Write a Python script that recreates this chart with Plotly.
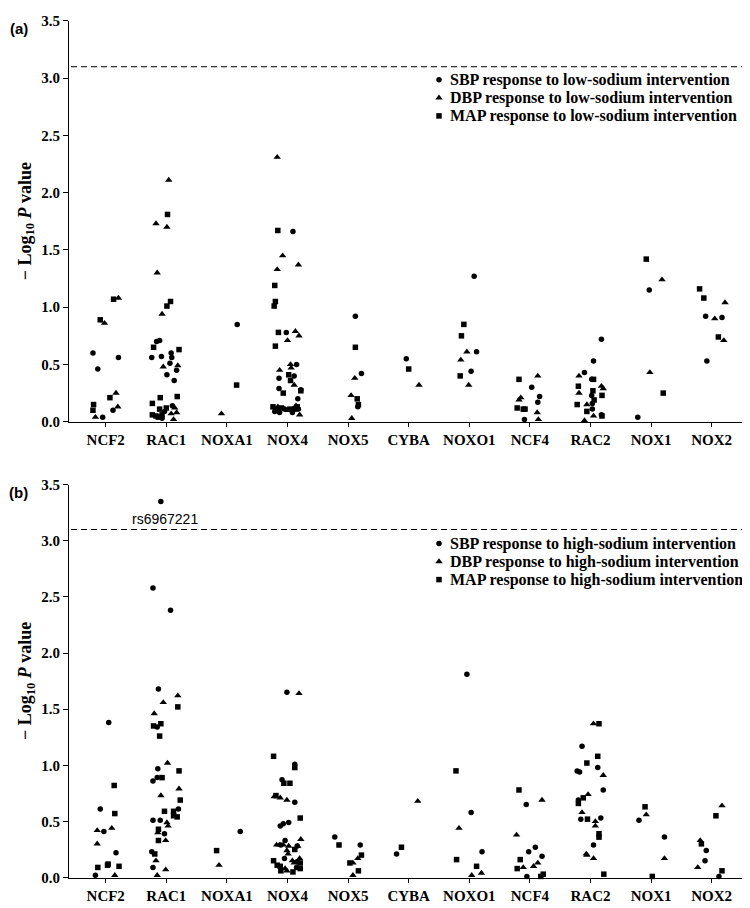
import plotly.graph_objects as go

GENES = ["NCF2", "RAC1", "NOXA1", "NOX4", "NOX5", "CYBA", "NOXO1", "NCF4", "RAC2", "NOX1", "NOX2"]
Y_TICKS = [0.0, 0.5, 1.0, 1.5, 2.0, 2.5, 3.0, 3.5]
THRESHOLD = 3.1
TOP_SNP = "rs6967221"
TOP_SNP_GENE = "RAC1"

# (jitter within gene column, -log10 P) for each SNP
A_SBP = {
    "NCF2": [(-0.21, 0.60), (-0.13, 0.46), (0.21, 0.56), (-0.05, 0.04), (0.12, 0.10)],
    "RAC1": [(-0.16, 0.70), (-0.11, 0.71), (-0.24, 0.56), (-0.08, 0.57), (0.08, 0.60), (0.09, 0.56),
             (0.06, 0.51), (0.17, 0.45), (0.01, 0.41), (0.13, 0.36), (0.10, 0.14), (-0.03, 0.09), (-0.07, 0.03)],
    "NOXA1": [(0.17, 0.85)],
    "NOX4": [(0.09, 1.66), (-0.02, 0.78), (0.15, 0.50), (-0.14, 0.38), (0.11, 0.40), (-0.14, 0.29),
             (0.22, 0.28), (0.17, 0.20), (-0.13, 0.08), (-0.05, 0.11), (0.08, 0.08), (0.18, 0.11), (-0.21, 0.09)],
    "NOX5": [(0.12, 0.92), (0.22, 0.42), (0.16, 0.13)],
    "CYBA": [(-0.04, 0.55)],
    "NOXO1": [(0.08, 1.27), (0.12, 0.61), (0.03, 0.44)],
    "NCF4": [(0.03, 0.30), (0.16, 0.22), (0.13, 0.17), (-0.09, 0.02)],
    "RAC2": [(0.18, 0.72), (0.05, 0.53), (-0.10, 0.43), (0.02, 0.37), (0.02, 0.23), (0.03, 0.16),
             (0.03, 0.11), (0.18, 0.06)],
    "NOX1": [(-0.03, 1.15), (-0.22, 0.04)],
    "NOX2": [(-0.10, 0.92), (0.17, 0.91), (-0.08, 0.53)],
}
A_DBP = {
    "NCF2": [(-0.02, 0.86), (0.21, 1.08), (-0.17, 0.04), (0.17, 0.25), (0.20, 0.13)],
    "RAC1": [(0.04, 2.11), (-0.17, 1.73), (0.01, 1.70), (-0.15, 1.30), (-0.07, 0.94), (-0.05, 0.48),
             (0.19, 0.49), (0.14, 0.12), (0.08, 0.07), (0.17, 0.08), (0.12, 0.02)],
    "NOXA1": [(-0.09, 0.07)],
    "NOX4": [(-0.17, 2.31), (-0.08, 1.45), (-0.17, 1.33), (0.18, 1.37), (0.13, 0.79), (0.00, 0.71),
             (0.19, 0.75), (-0.13, 0.45), (0.05, 0.50), (0.06, 0.47), (0.11, 0.32), (-0.16, 0.13),
             (0.00, 0.10), (0.14, 0.14), (0.20, 0.06)],
    "NOX5": [(0.11, 0.38), (0.05, 0.23), (0.06, 0.03)],
    "CYBA": [(0.17, 0.32)],
    "NOXO1": [(-0.04, 0.61), (-0.14, 0.54), (-0.01, 0.32)],
    "NCF4": [(0.13, 0.40), (-0.15, 0.21), (-0.18, 0.19), (0.12, 0.08), (0.14, 0.02)],
    "RAC2": [(-0.19, 0.40), (0.18, 0.31), (0.21, 0.29), (-0.19, 0.25), (-0.06, 0.15), (0.05, 0.05),
             (-0.10, 0.01)],
    "NOX1": [(0.18, 1.24), (-0.02, 0.43)],
    "NOX2": [(0.22, 1.04), (0.05, 0.90), (0.20, 0.71)],
}
A_MAP = {
    "NCF2": [(-0.09, 0.89), (0.13, 1.07), (-0.20, 0.15), (-0.21, 0.10), (0.07, 0.21)],
    "RAC1": [(0.02, 1.81), (0.07, 1.05), (0.01, 1.01), (-0.21, 0.65), (0.21, 0.63), (-0.10, 0.21),
             (0.18, 0.22), (-0.23, 0.16), (-0.11, 0.11), (0.00, 0.12), (-0.23, 0.06), (-0.17, 0.05),
             (-0.13, 0.04), (-0.07, 0.06)],
    "NOXA1": [(0.16, 0.32)],
    "NOX4": [(-0.16, 1.67), (-0.21, 1.19), (-0.20, 1.05), (-0.22, 1.01), (-0.15, 0.78), (-0.20, 0.66),
             (0.02, 0.41), (0.05, 0.36), (0.22, 0.27), (-0.07, 0.25), (-0.24, 0.13), (-0.18, 0.11),
             (-0.10, 0.12), (0.04, 0.11), (0.12, 0.11), (0.16, 0.13)],
    "NOX5": [(0.12, 0.65), (0.15, 0.20), (0.17, 0.15)],
    "CYBA": [(0.00, 0.46)],
    "NOXO1": [(-0.09, 0.85), (-0.13, 0.75), (-0.15, 0.40)],
    "NCF4": [(-0.18, 0.37), (-0.21, 0.12), (-0.11, 0.11), (-0.08, 0.11)],
    "RAC2": [(0.05, 0.37), (-0.20, 0.31), (0.04, 0.27), (0.19, 0.23), (0.06, 0.19), (-0.22, 0.15),
             (-0.06, 0.09), (0.19, 0.05)],
    "NOX1": [(-0.08, 1.42), (0.20, 0.25)],
    "NOX2": [(-0.20, 1.16), (-0.13, 1.08), (0.11, 0.74)],
}

B_SBP = {
    "NCF2": [(0.05, 1.38), (-0.09, 0.61), (-0.03, 0.41), (0.17, 0.22), (-0.17, 0.02)],
    "RAC1": [(-0.09, 3.35), (-0.22, 2.58), (0.07, 2.38), (-0.13, 1.68), (-0.15, 1.34), (-0.14, 0.97),
             (-0.15, 0.89), (-0.22, 0.86), (0.20, 0.61), (-0.22, 0.51), (-0.10, 0.51), (-0.03, 0.39),
             (-0.24, 0.23), (-0.22, 0.09)],
    "NOXA1": [(0.22, 0.41)],
    "NOX4": [(-0.01, 1.65), (0.12, 1.01), (-0.09, 0.87), (0.12, 0.67), (-0.12, 0.46), (-0.07, 0.48),
             (0.02, 0.49), (-0.04, 0.33), (-0.11, 0.29), (0.16, 0.28), (-0.05, 0.17), (0.16, 0.14),
             (0.15, 0.09)],
    "NOX5": [(-0.22, 0.36), (0.20, 0.29)],
    "CYBA": [(-0.20, 0.21)],
    "NOXO1": [(-0.04, 1.81), (0.03, 0.58), (0.21, 0.23)],
    "NCF4": [(-0.06, 0.65), (0.09, 0.27), (-0.02, 0.23), (0.20, 0.19), (-0.05, 0.01)],
    "RAC2": [(-0.14, 1.17), (-0.22, 0.95), (-0.18, 0.94), (0.12, 0.98), (0.21, 0.78), (-0.20, 0.69),
             (-0.16, 0.52), (0.17, 0.53), (0.05, 0.29)],
    "NOX1": [(-0.20, 0.51), (0.22, 0.36)],
    "NOX2": [(-0.09, 0.24), (-0.11, 0.15), (0.12, 0.01)],
}
B_DBP = {
    "NCF2": [(-0.14, 0.42), (0.10, 0.44), (-0.14, 0.30), (0.15, 0.02)],
    "RAC1": [(0.19, 1.62), (-0.05, 1.56), (-0.20, 1.46), (0.02, 1.02), (0.21, 0.79), (-0.09, 0.73),
             (0.01, 0.49), (0.03, 0.46), (-0.14, 0.40), (-0.01, 0.33), (-0.17, 0.15), (-0.01, 0.07),
             (-0.15, 0.02)],
    "NOXA1": [(-0.13, 0.11)],
    "NOX4": [(0.19, 1.64), (-0.22, 0.72), (-0.12, 0.71), (-0.01, 0.69), (0.22, 0.34), (-0.18, 0.29),
             (-0.13, 0.29), (-0.07, 0.29), (0.02, 0.28), (-0.01, 0.24), (0.17, 0.28), (0.01, 0.21),
             (0.08, 0.15), (0.20, 0.17), (0.11, 0.13), (-0.04, 0.08), (-0.01, 0.06)],
    "NOX5": [(0.16, 0.17), (0.08, 0.13), (0.08, 0.02)],
    "CYBA": [(0.15, 0.68)],
    "NOXO1": [(-0.17, 0.44), (0.20, 0.04), (0.04, 0.02)],
    "NCF4": [(0.20, 0.69), (-0.22, 0.38), (0.13, 0.13), (0.06, 0.10), (-0.11, 0.09)],
    "RAC2": [(0.05, 1.37), (0.21, 0.91), (-0.04, 0.74), (-0.14, 0.58), (0.08, 0.50), (0.08, 0.46),
             (-0.07, 0.21), (-0.06, 0.20), (0.05, 0.17)],
    "NOX1": [(-0.08, 0.56), (0.22, 0.17)],
    "NOX2": [(0.17, 0.64), (-0.19, 0.33), (-0.23, 0.09)],
}
B_MAP = {
    "NCF2": [(0.14, 0.82), (0.15, 0.57), (-0.13, 0.09), (0.03, 0.11), (0.04, 0.12), (0.22, 0.10)],
    "RAC1": [(0.19, 1.52), (-0.21, 1.35), (-0.09, 1.37), (-0.11, 1.26), (0.21, 0.95), (-0.07, 0.89),
             (0.23, 0.69), (-0.03, 0.59), (0.12, 0.59), (0.12, 0.55), (0.18, 0.54), (-0.13, 0.43),
             (-0.13, 0.33), (-0.19, 0.21)],
    "NOXA1": [(-0.17, 0.24)],
    "NOX4": [(-0.23, 1.08), (0.12, 0.98), (-0.06, 0.84), (0.04, 0.84), (-0.19, 0.73), (0.21, 0.53),
             (0.12, 0.25), (-0.23, 0.15), (-0.17, 0.11), (-0.12, 0.10), (0.21, 0.13), (-0.11, 0.06),
             (0.09, 0.05), (0.21, 0.08)],
    "NOX5": [(-0.15, 0.29), (0.22, 0.20), (0.03, 0.13), (0.17, 0.06)],
    "CYBA": [(-0.12, 0.27)],
    "NOXO1": [(-0.22, 0.95), (-0.21, 0.16), (0.12, 0.10)],
    "NCF4": [(-0.18, 0.78), (-0.16, 0.16), (-0.21, 0.08), (0.22, 0.03), (0.18, 0.01)],
    "RAC2": [(0.14, 1.37), (0.12, 1.08), (-0.06, 1.02), (-0.12, 0.71), (-0.20, 0.66), (-0.05, 0.52),
             (0.14, 0.39), (0.14, 0.36), (0.22, 0.03)],
    "NOX1": [(-0.10, 0.63), (0.02, 0.01)],
    "NOX2": [(0.07, 0.55), (-0.17, 0.30), (0.17, 0.06)],
}

LEGEND_A = ["SBP response to low-sodium intervention",
            "DBP response to low-sodium intervention",
            "MAP response to low-sodium intervention"]
LEGEND_B = ["SBP response to high-sodium intervention",
            "DBP response to high-sodium intervention",
            "MAP response to high-sodium intervention"]

SYMBOLS = ["circle", "triangle-up", "square"]
SIZES = [5.5, 6.5, 5.5]

W, H = 750, 908
SERIF = "Liberation Serif, Times New Roman, serif"
SANS = "Liberation Sans, Arial, sans-serif"

# layout in pixels
PLOT_L, PLOT_R = 61, 742
A_TOP, A_BOT = 5, 413
B_TOP, B_BOT = 477, 877
CAT0_PX, CAT_STEP = 97.7, 60.6


def expand(series):
    xs, ys = [], []
    for g, pts in series.items():
        gi = GENES.index(g)
        for off, v in pts:
            xs.append(gi + off)
            ys.append(v)
    return xs, ys


fig = go.Figure()

panels = [("x", "y", [A_SBP, A_DBP, A_MAP]), ("x2", "y2", [B_SBP, B_DBP, B_MAP])]
for xa, ya, series_list in panels:
    for s, sym, sz in zip(series_list, SYMBOLS, SIZES):
        xs, ys = expand(s)
        fig.add_trace(go.Scatter(
            x=xs, y=ys, xaxis=xa, yaxis=ya, mode="markers", cliponaxis=False,
            marker=dict(symbol=sym, size=sz, color="black", line=dict(width=0)),
            showlegend=False, hoverinfo="skip"))

# legend markers on a hidden full-figure pixel axis
leg_x_marker, leg_x_text = 431, 440
leg_rows_a = [65, 83.3, 101.7]
leg_rows_b = [B_TOP + (r - A_TOP) for r in leg_rows_a]
for rows, labels in [(leg_rows_a, LEGEND_A), (leg_rows_b, LEGEND_B)]:
    for r, sym, sz, lab in zip(rows, SYMBOLS, SIZES, labels):
        fig.add_trace(go.Scatter(
            x=[leg_x_marker], y=[r], xaxis="x3", yaxis="y3", mode="markers",
            marker=dict(symbol=sym, size=sz, color="black", line=dict(width=0)),
            showlegend=False, hoverinfo="skip"))
        fig.add_annotation(x=leg_x_text, y=r, xref="x3", yref="y3", text=lab,
                           showarrow=False, xanchor="left", yanchor="middle",
                           font=dict(family=SERIF, size=16, color="black", weight="bold"))

cat_lo = (PLOT_L - CAT0_PX) / CAT_STEP
cat_hi = (PLOT_R - CAT0_PX) / CAT_STEP

axis_common = dict(showline=True, linecolor="black", linewidth=1, ticks="outside",
                   tickwidth=1, tickcolor="black", showgrid=False, zeroline=False,
                   tickfont=dict(family=SERIF, size=15, color="black", weight="bold"))

xdom = [PLOT_L / W, PLOT_R / W]
fig.update_layout(
    width=W, height=H, margin=dict(l=0, r=0, t=0, b=0),
    paper_bgcolor="white", plot_bgcolor="rgba(0,0,0,0)",
    showlegend=False,
    xaxis=dict(domain=xdom, anchor="y", range=[cat_lo, cat_hi], ticklen=4,
               tickvals=list(range(len(GENES))), ticktext=GENES, **axis_common),
    yaxis=dict(domain=[(H - A_BOT) / H, (H - A_TOP) / H], anchor="x", range=[0, 3.5], ticklen=5,
               tickvals=Y_TICKS, ticktext=[f"{t:.1f}" for t in Y_TICKS], **axis_common),
    xaxis2=dict(domain=xdom, anchor="y2", range=[cat_lo, cat_hi], ticklen=4,
                tickvals=list(range(len(GENES))), ticktext=GENES, **axis_common),
    yaxis2=dict(domain=[(H - B_BOT) / H, (H - B_TOP) / H], anchor="x2", range=[0, 3.5], ticklen=5,
                tickvals=Y_TICKS, ticktext=[f"{t:.1f}" for t in Y_TICKS], **axis_common),
    xaxis3=dict(domain=[0, 1], anchor="y3", range=[0, W], visible=False, fixedrange=True),
    yaxis3=dict(domain=[0, 1], anchor="x3", range=[H, 0], visible=False, fixedrange=True),
)

# significance threshold lines
for xr, yr in [("x domain", "y"), ("x2 domain", "y2")]:
    fig.add_shape(type="line", xref=xr, yref=yr, x0=(63 - PLOT_L) / (PLOT_R - PLOT_L),
                  x1=(735 - PLOT_L) / (PLOT_R - PLOT_L), y0=THRESHOLD, y1=THRESHOLD,
                  line=dict(color="black", width=1, dash="6px,4px"))

# top SNP label
fig.add_annotation(x=GENES.index(TOP_SNP_GENE) - 0.026, y=3.195, xref="x2", yref="y2",
                   text=TOP_SNP, showarrow=False, xanchor="center", yanchor="middle",
                   font=dict(family=SANS, size=14, color="black"))

# panel labels and y titles
for lab, ytop, ybot in [("(a)", A_TOP, A_BOT), ("(b)", B_TOP, B_BOT)]:
    fig.add_annotation(x=10.5, y=ytop + 7.7, xref="x3", yref="y3", text=lab, showarrow=False,
                       xanchor="center", yanchor="middle",
                       font=dict(family=SANS, size=15, color="black", weight="bold"))
    fig.add_annotation(x=18, y=(ytop + ybot) / 2, xref="x3", yref="y3",
                       text="\u2212 Log<sub>10</sub> <i>P</i> value", textangle=-90,
                       showarrow=False, xanchor="center", yanchor="middle",
                       font=dict(family=SERIF, size=18, color="black", weight="bold"))

fig.write_html("out.html")
